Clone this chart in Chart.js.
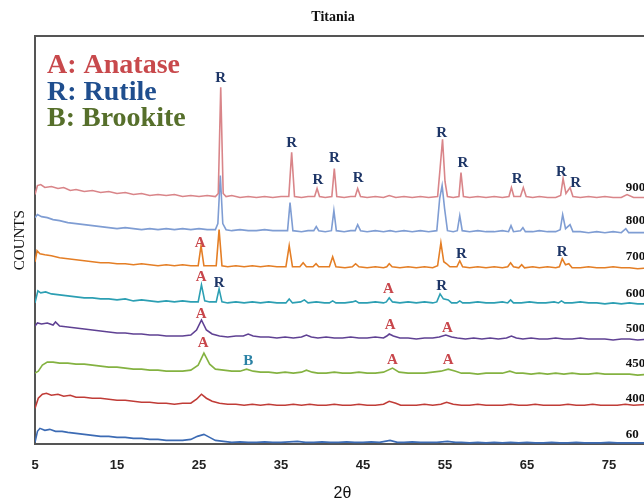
<!DOCTYPE html>
<html>
<head>
<meta charset="utf-8">
<script src="https://cdn.jsdelivr.net/npm/chart.js@4/dist/chart.umd.min.js"></script>
<style>
  html, body { margin: 0; padding: 0; background: #fff; overflow: hidden; }
  #wrap { position: absolute; left: 0; top: 0; width: 656px; height: 500px; }
</style>
</head>
<body>
<div id="wrap"><canvas id="xrd" width="656" height="500"></canvas></div>
<script>
// 2theta tick labels
const xTicks = [5, 15, 25, 35, 45, 55, 65, 75];

// traces: [2theta, counts] (stacked offsets included)
const t900 = [[5.0, 249], [5.3, 258], [5.7, 259], [6.2, 256], [7, 257], [7.8, 255], [8.5, 256], [9.3, 253], [10, 254], [11, 252], [12, 253], [13, 251], [14, 252], [15, 250], [16, 251], [17, 249], [18, 250], [19, 248], [20, 249], [21, 248], [22, 249], [23, 247], [24, 248], [25, 247], [26, 248], [27, 247], [27.35, 250], [27.65, 356], [27.95, 250], [28.3, 247], [29, 248], [30, 246], [31, 247], [32, 246], [33, 247], [34, 246], [35, 247], [35.95, 247], [36.3, 291], [36.65, 247], [37.5, 246], [38.3, 247], [39.1, 247], [39.4, 255], [39.7, 247], [40.4, 246], [41.2, 247], [41.5, 275], [41.8, 247], [42.7, 246], [43.5, 247], [44.05, 247], [44.35, 255], [44.7, 247], [45.5, 246], [46.5, 247], [47.5, 246], [48.2, 248], [49, 246], [50, 247], [51, 246], [52, 247], [53, 246], [54.1, 247], [54.4, 275], [54.7, 304], [55.0, 262], [55.3, 247], [56, 246], [56.7, 247], [56.95, 271], [57.25, 247], [58, 246], [59, 247], [60, 246], [61, 247], [62, 246], [62.8, 247], [63.1, 256], [63.4, 247], [64.2, 247], [64.55, 256], [64.9, 247], [65.7, 246], [66.5, 247], [67.5, 246], [68.5, 246], [69.1, 248], [69.4, 265], [69.75, 250], [70.25, 256], [70.6, 247], [71.5, 246], [72.5, 247], [73.5, 246], [74.5, 247], [75.5, 246], [76.5, 246], [77.2, 249], [78, 246], [79, 246], [80, 246]];
const t800 = [[5.0, 226], [5.3, 229], [5.8, 227], [6.5, 226], [7.2, 224], [8, 223], [9, 221], [10, 220], [11, 219], [12, 218], [13, 217], [14, 216], [15, 215], [16, 216], [17, 215], [18, 214], [19, 215], [20, 214], [21, 215], [22, 214], [23, 215], [24, 214], [25, 215], [26, 214], [27, 214], [27.3, 220], [27.6, 268], [27.9, 220], [28.3, 214], [29, 213], [30, 214], [31, 213], [32, 213], [33, 214], [34, 213], [35, 213], [35.8, 213], [36.1, 241], [36.45, 213], [37.5, 212], [38.3, 213], [39.0, 213], [39.3, 217], [39.6, 213], [40.4, 212], [41.15, 213], [41.45, 233], [41.75, 213], [42.7, 212], [43.5, 213], [44.05, 213], [44.35, 219], [44.7, 213], [45.5, 212], [46.5, 213], [47.5, 212], [48.3, 213], [49, 212], [50, 213], [51, 212], [52, 213], [53, 212], [54.0, 213], [54.35, 245], [54.65, 258], [54.95, 235], [55.3, 213], [56, 212], [56.5, 213], [56.8, 228], [57.1, 213], [58, 212], [59, 213], [60, 212], [61, 212], [62, 213], [62.75, 212], [63.05, 218], [63.35, 212], [64.2, 213], [64.5, 216], [64.8, 212], [65.7, 212], [66.5, 213], [67.5, 212], [68.5, 212], [69.05, 214], [69.35, 229], [69.7, 215], [70.25, 219], [70.6, 212], [71.5, 212], [72.5, 211], [73.5, 212], [74.5, 211], [75.5, 212], [76.5, 211], [77.05, 215], [77.4, 211], [78.5, 211], [80, 211]];
const t700 = [[5.0, 182], [5.25, 193], [5.6, 190], [6.2, 189], [7, 188], [8, 186], [9, 185], [10, 184], [11, 183], [12, 182], [13, 181], [14, 181], [15, 180], [16, 180], [17, 179], [18, 180], [19, 179], [20, 178], [21, 179], [22, 178], [23, 179], [24, 178], [24.9, 178], [25.25, 198], [25.6, 178], [26.3, 178], [27.1, 178], [27.45, 214], [27.8, 178], [28.5, 177], [29.5, 178], [30.5, 177], [31.5, 178], [32.5, 177], [33.5, 178], [34.5, 177], [35.6, 177], [36.0, 198], [36.4, 177], [37.3, 177], [37.7, 181], [38.1, 177], [38.9, 177], [39.27, 180], [39.6, 177], [40.9, 177], [41.3, 187], [41.7, 177], [42.8, 176], [43.7, 177], [44.1, 180], [44.5, 177], [45.5, 176], [46.5, 177], [47.5, 176], [47.9, 177], [48.2, 180], [48.55, 177], [49.5, 176], [50.5, 177], [51.5, 176], [52.5, 177], [53.5, 176], [54.1, 178], [54.5, 201], [54.85, 182], [55.2, 180], [55.6, 177], [56.45, 177], [56.8, 183], [57.15, 177], [58, 176], [59, 177], [60, 176], [61, 177], [62, 176], [62.65, 177], [63.0, 181], [63.35, 177], [64.0, 176], [64.35, 179], [64.7, 176], [65.7, 177], [66.5, 176], [67.5, 177], [68.5, 176], [68.95, 177], [69.3, 185], [69.7, 179], [70.1, 180], [70.5, 176], [71.5, 176], [72.5, 177], [73.5, 176], [74.5, 176], [75.5, 177], [76.5, 176], [77.5, 176], [78.5, 175], [80, 176]];
const t600 = [[5.0, 141], [5.35, 153], [5.7, 151], [6.3, 152], [7, 150], [8, 149], [9, 148], [10, 147], [11, 146], [12, 146], [13, 145], [14, 145], [15, 144], [16, 145], [17, 143], [18, 144], [19, 143], [20, 142], [21, 143], [22, 142], [23, 143], [24, 142], [24.9, 142], [25.3, 159], [25.7, 143], [26.3, 142], [27.1, 142], [27.45, 155], [27.8, 142], [28.5, 141], [29.5, 142], [30.5, 141], [31.5, 142], [32.5, 141], [33.5, 142], [34.5, 141], [35.6, 141], [36.0, 145], [36.4, 141], [37.4, 142], [37.85, 144], [38.3, 141], [39.3, 142], [40.3, 141], [40.9, 141], [41.3, 143], [41.7, 141], [42.8, 141], [43.7, 142], [44.1, 143], [44.5, 141], [45.5, 141], [46.5, 142], [47.5, 141], [47.85, 142], [48.2, 146], [48.6, 142], [49.5, 141], [50.5, 142], [51.5, 141], [52.5, 142], [53.5, 141], [54.0, 142], [54.4, 150], [54.8, 145], [55.4, 144], [55.8, 141], [56.45, 141], [56.8, 143], [57.15, 141], [58, 141], [59, 142], [60, 141], [61, 141], [62, 142], [62.65, 141], [63.0, 144], [63.35, 141], [64.3, 141], [65.3, 142], [66.3, 141], [67.3, 141], [68.3, 142], [68.85, 141], [69.2, 143], [69.6, 141], [70.5, 141], [71.5, 142], [72.5, 141], [73.5, 141], [74.5, 140], [75.5, 141], [76.5, 140], [77.5, 141], [78.5, 140], [80, 140]];
const t500 = [[5.0, 118], [5.3, 121], [5.8, 120], [6.5, 121], [7.2, 119], [7.5, 122], [8, 118], [9, 117], [10, 116], [11, 115], [12, 114], [13, 113], [14, 112], [15, 111], [16, 111], [17, 110], [18, 110], [19, 109], [20, 109], [21, 108], [22, 108], [23, 108], [24, 109], [24.7, 114], [25.3, 124], [25.9, 114], [26.6, 110], [27.5, 108], [28.5, 107], [29.5, 108], [30.4, 108], [31, 110], [31.6, 108], [32.5, 107], [33.5, 107], [34.5, 106], [35.5, 107], [36.5, 106], [37.5, 107], [38.1, 109], [38.7, 107], [39.5, 106], [40.5, 107], [41.5, 106], [42.5, 106], [43.5, 107], [44.5, 106], [45.5, 106], [46.5, 107], [47.5, 106], [47.9, 108], [48.2, 110], [48.7, 108], [49.5, 106], [50.5, 106], [51.5, 105], [52.5, 106], [53.5, 106], [54.3, 107], [55.1, 109], [55.8, 107], [56.5, 106], [57.5, 105], [58.5, 106], [59.5, 105], [60.5, 106], [61.5, 105], [62.5, 106], [63.1, 108], [63.7, 106], [64.5, 105], [65.5, 106], [66.5, 105], [67.5, 105], [68.5, 106], [69.5, 105], [70.5, 105], [71.5, 106], [72.5, 105], [73.5, 105], [74.5, 105], [75.5, 104], [76.5, 105], [77.5, 105], [78.5, 104], [80, 105]];
const t450 = [[5.0, 71], [5.4, 73], [5.9, 79], [6.5, 82], [7.2, 82], [8, 81], [9, 81], [10, 80], [11, 80], [12, 79], [13, 78], [14, 77], [15, 77], [16, 76], [17, 75], [18, 75], [19, 74], [20, 74], [21, 73], [22, 73], [23, 73], [24, 74], [24.9, 79], [25.6, 91], [26.3, 80], [27, 75], [28, 74], [29, 73], [30, 73], [30.8, 75], [31.6, 73], [32.5, 72], [33.5, 72], [34.5, 71], [35.5, 72], [36.5, 71], [37.5, 72], [38.1, 74], [38.8, 72], [39.5, 71], [40.5, 71], [41.5, 72], [42.5, 71], [43.5, 71], [44.5, 72], [45.5, 71], [46.5, 71], [47.5, 72], [48.6, 76], [49.4, 72], [50.5, 71], [51.5, 71], [52.5, 71], [53.5, 72], [54.5, 73], [55.4, 75], [56.3, 73], [57, 71], [58, 71], [59, 70], [60, 71], [61, 71], [62, 71], [62.9, 73], [63.7, 71], [64.5, 71], [65.5, 70], [66.5, 71], [67.5, 70], [68.5, 71], [69.5, 70], [70.5, 71], [71.5, 70], [72.5, 70], [73.5, 71], [74.5, 70], [75.5, 70], [76.5, 70], [77.5, 70], [78.5, 69], [80, 70]];
const t400 = [[5.0, 36], [5.4, 46], [5.9, 50], [6.4, 51], [7, 49], [7.8, 50], [8.5, 48], [9.3, 49], [10, 47], [11, 47], [12, 46], [13, 46], [14, 45], [15, 44], [16, 44], [17, 43], [18, 42], [19, 42], [20, 41], [21, 41], [22, 40], [23, 41], [24, 41], [24.7, 45], [25.3, 50], [25.9, 46], [26.6, 43], [27.5, 41], [28.5, 40], [29.5, 40], [30.5, 39], [31.5, 40], [32.5, 39], [33.5, 40], [34.5, 39], [35.5, 39], [36.5, 40], [37.5, 39], [38.5, 40], [39.5, 39], [40.5, 39], [41.5, 40], [42.5, 39], [43.5, 39], [44.5, 40], [45.5, 39], [46.5, 39], [47.5, 40], [48.2, 43], [49, 41], [49.6, 39], [50.5, 39], [51.5, 39], [52.5, 40], [53.5, 39], [54.5, 40], [55.2, 42], [56, 40], [57, 39], [58, 39], [59, 40], [60, 39], [61, 39], [62, 39], [63, 40], [64, 39], [65, 39], [66, 40], [67, 39], [68, 39], [69, 39], [70, 40], [71, 39], [72, 39], [73, 40], [74, 39], [75, 39], [76, 39], [77, 40], [78, 39], [80, 40]];
const t60 = [[5.0, 2], [5.3, 13], [5.6, 16], [6.2, 14], [6.8, 15], [7.5, 13], [8.3, 13], [9, 12], [10, 11], [11, 10], [12, 9], [13, 8], [14, 8], [15, 7], [16, 7], [17, 6], [18, 6], [19, 5], [20, 5], [21, 4], [22, 4], [23, 4], [24, 5], [24.8, 8], [25.6, 10], [26.3, 7], [27, 4], [28, 3], [29, 2], [30, 2.5], [31, 2], [32, 2], [33, 2.5], [34, 2], [35, 2], [36, 2.5], [37, 3], [38, 2], [39, 2], [40, 2.5], [41, 2], [42, 2], [43, 2.5], [44, 2], [45, 2], [46, 2.5], [47, 2], [48.3, 4], [49.2, 2], [50, 2], [51, 2.5], [52, 2], [53, 2], [54, 2], [55.3, 3], [56.3, 2], [57, 2], [58, 1.5], [59, 2], [60, 1.5], [61, 2], [62, 1.5], [63, 2], [64, 1.5], [65, 2], [66, 1.5], [67, 1.5], [68, 2], [69, 1.5], [70, 1.5], [71, 2], [72, 1.5], [73, 1.5], [74, 1.5], [75, 2], [76, 1.5], [77, 1.5], [78, 1.5], [80, 1.5]];

// temperature labels at the right end of each trace
const tempLabels = ['900', '800', '700', '600', '500', '450', '400', '60'];
const tempLevels = [256, 223, 187, 150, 115, 80, 46, 10];
const labelAt = 77.05;

// phase marks: [2theta, counts]
const rutileMarks = [[27.65, 365], [36.3, 300], [39.5, 263], [41.5, 285], [44.4, 265], [54.6, 310], [57.2, 280], [63.8, 264], [69.2, 271], [70.95, 260], [57.0, 190], [69.3, 192], [27.47, 161], [54.6, 158]];
const anataseMarks = [[25.15, 201], [25.25, 167], [48.1, 155], [25.25, 130], [48.3, 119], [55.3, 116], [25.5, 101], [48.6, 84], [55.4, 84]];
const brookiteMarks = [[31.0, 83]];

const phaseKey = ['A: Anatase', 'R: Rutile', 'B: Brookite'];

const traces = [t900, t800, t700, t600, t500, t450, t400, t60];
const colors = ['#d98589', '#7f9dd3', '#e47e25', '#2c9fb3', '#5f4193', '#84b241', '#c03c37', '#3c6bb4'];

const SERIF = '"Liberation Serif", "DejaVu Serif", serif';
const SANS = '"Liberation Sans", Arial, sans-serif';

const decorations = {
  id: 'decorations',
  afterDatasetsDraw(chart) {
    const { ctx, chartArea, scales: { x, y } } = chart;
    ctx.save();
    // top edge of the frame
    ctx.strokeStyle = '#555';
    ctx.lineWidth = 2;
    ctx.beginPath();
    ctx.moveTo(chartArea.left - 1, chartArea.top);
    ctx.lineTo(chartArea.right + 10, chartArea.top);
    ctx.stroke();

    // title
    ctx.fillStyle = '#111';
    ctx.font = `bold 14px ${SERIF}`;
    ctx.textAlign = 'center';
    ctx.textBaseline = 'middle';
    ctx.fillText('Titania', 333, 17);

    // phase key
    ctx.textAlign = 'left';
    ctx.textBaseline = 'alphabetic';
    ctx.font = `bold 28px ${SERIF}`;
    const keyColors = ['#c8494c', '#1f4e8e', '#566f2b'];
    phaseKey.forEach((t, i) => {
      ctx.fillStyle = keyColors[i];
      ctx.fillText(t, 47, 73 + i * 26.7);
    });

    // peak letters
    ctx.textAlign = 'center';
    ctx.textBaseline = 'middle';
    ctx.font = `bold 15px ${SERIF}`;
    const mark = (list, letter, color) => {
      ctx.fillStyle = color;
      list.forEach(([tt, c]) => ctx.fillText(letter, x.getPixelForValue(tt), y.getPixelForValue(c)));
    };
    mark(rutileMarks, 'R', '#1d3566');
    mark(anataseMarks, 'A', '#c8464b');
    mark(brookiteMarks, 'B', '#2b82a5');

    // temperatures
    ctx.textAlign = 'left';
    ctx.fillStyle = '#111';
    ctx.font = `bold 13px ${SERIF}`;
    tempLabels.forEach((t, i) => ctx.fillText(t, x.getPixelForValue(labelAt), y.getPixelForValue(tempLevels[i])));
    ctx.restore();
  },
};

new Chart(document.getElementById('xrd'), {
  type: 'line',
  data: {
    datasets: traces.map((pts, i) => ({
      label: tempLabels[i],
      data: pts.map(([a, b]) => ({ x: a, y: b })),
      borderColor: colors[i],
      borderWidth: 1.6,
      pointRadius: 0,
      tension: 0,
      fill: false,
    })),
  },
  options: {
    responsive: false,
    animation: false,
    layout: { padding: { top: 36, left: 7, right: 6, bottom: 0 } },
    plugins: { legend: { display: false }, title: { display: false }, tooltip: { enabled: false } },
    scales: {
      x: {
        type: 'linear',
        min: 5,
        max: 80,
        afterBuildTicks: (scale) => { scale.ticks = xTicks.map((v) => ({ value: v })); },
        grid: { display: false, drawTicks: false },
        border: { display: true, color: '#555', width: 2 },
        ticks: { padding: 13, color: '#222', font: { family: SANS, size: 13, weight: 'bold' }, maxRotation: 0 },
        title: { display: true, text: '2θ', color: '#111', font: { family: SANS, size: 16, lineHeight: 0.8 }, padding: { top: 1.2, bottom: 0 } },
      },
      y: {
        min: 0,
        max: 407,
        grid: { display: false, drawTicks: false },
        border: { display: true, color: '#555', width: 2 },
        ticks: { display: false },
        title: { display: true, text: 'COUNTS', color: '#111', font: { family: SERIF, size: 15 }, padding: { top: 4, bottom: 6 } },
      },
    },
  },
  plugins: [decorations],
});
</script>
</body>
</html>
